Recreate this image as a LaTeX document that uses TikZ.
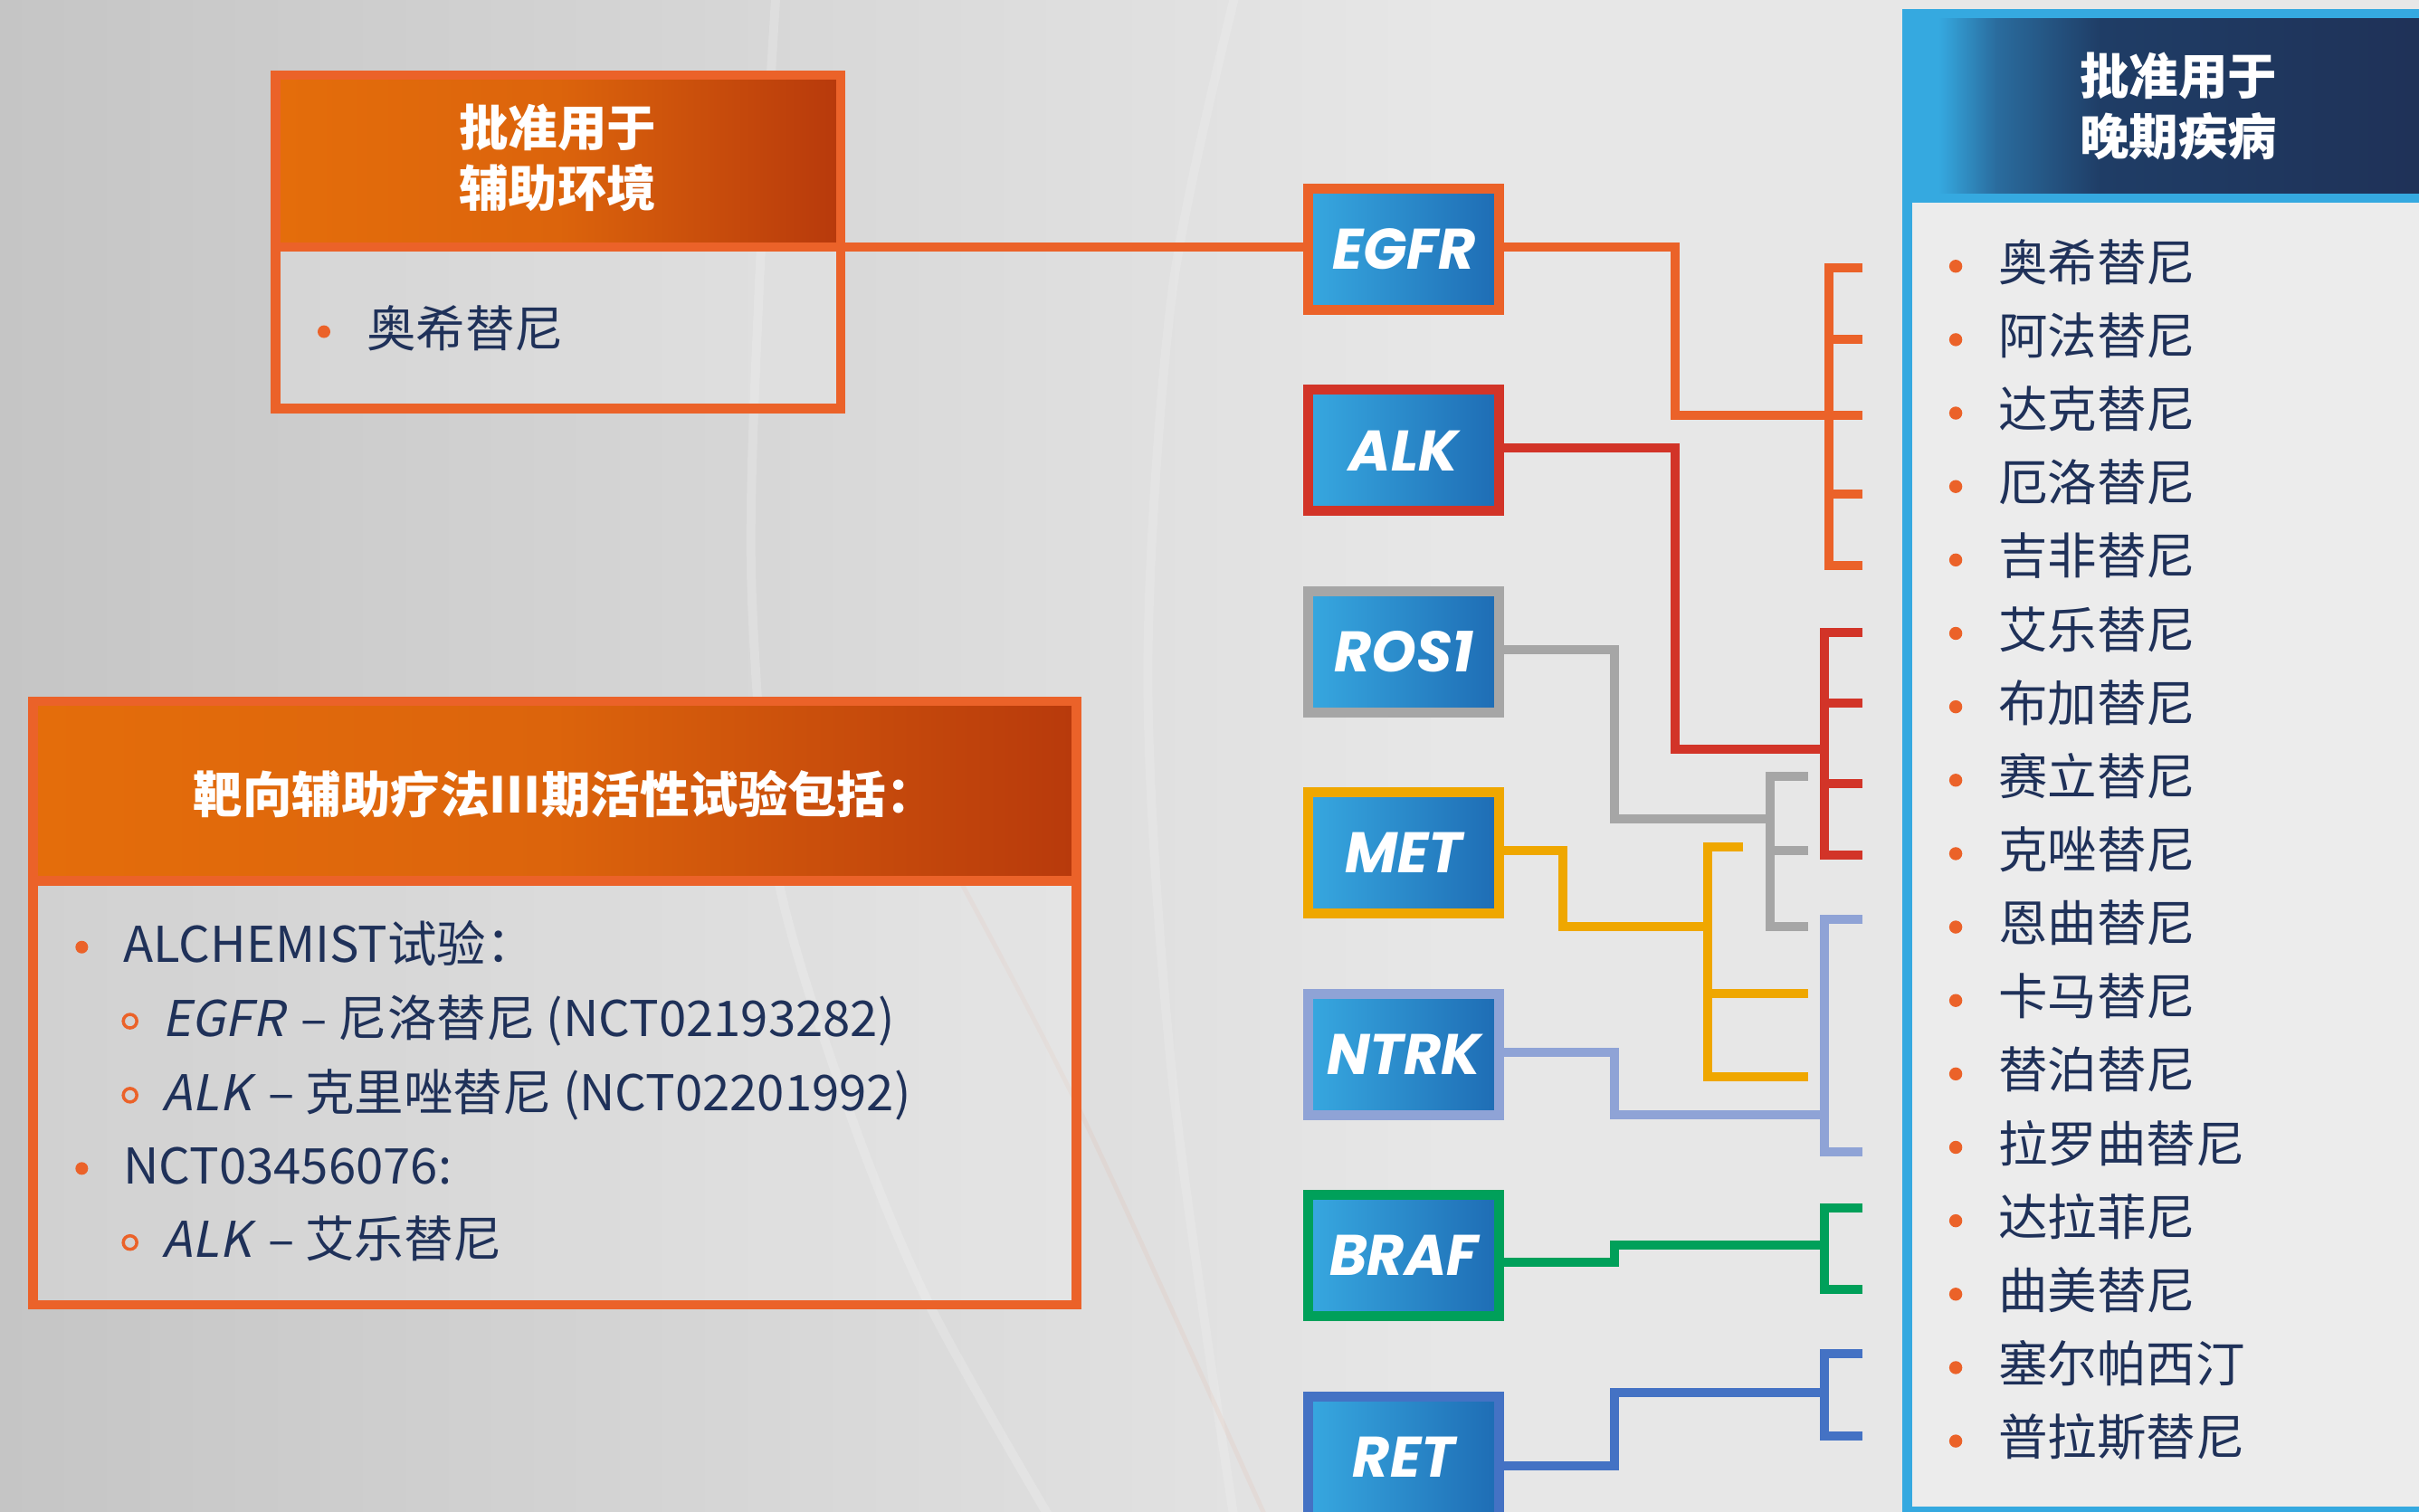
\documentclass[tikz,border=0pt]{standalone}
\usepackage{fontspec}
\setmainfont{Noto Sans CJK SC}
\newfontfamily\cjkit{Noto Sans CJK SC}[FakeSlant=0.2]
\newfontfamily\genefont{Poppins}
\usetikzlibrary{calc}

\definecolor{corange}{HTML}{EB6229}
\definecolor{cred}{HTML}{D23428}
\definecolor{cgray}{HTML}{A6A6A6}
\definecolor{cyellow}{HTML}{EFA700}
\definecolor{clav}{HTML}{8FA3D6}
\definecolor{cgreen}{HTML}{00A05A}
\definecolor{cblue}{HTML}{4472C4}
\definecolor{pblue}{HTML}{35A9E0}
\definecolor{navy}{HTML}{1F3157}
\definecolor{rh2}{HTML}{2A6C9E}
\definecolor{rh3}{HTML}{1F3D66}
\definecolor{tnavy}{HTML}{1F3159}
\definecolor{hor1}{HTML}{E46D0B}
\definecolor{hor2}{HTML}{DC640C}
\definecolor{hor3}{HTML}{B83A0C}
\definecolor{gb1}{HTML}{37A8E0}
\definecolor{gb2}{HTML}{1E6CB4}
\definecolor{bgL}{HTML}{C5C5C5}
\definecolor{bgR}{HTML}{E7E7E7}
\definecolor{rbody}{HTML}{ECECEC}

% TikZ maps the 25bp..75bp part of a shading onto the path
\pgfdeclarehorizontalshading{orhdr}{100bp}{color(0bp)=(hor1); color(25bp)=(hor1); color(50bp)=(hor2); color(75bp)=(hor3); color(100bp)=(hor3)}
\pgfdeclarehorizontalshading{bluehdr}{100bp}{color(0bp)=(pblue); color(27.5bp)=(pblue); color(33bp)=(rh2); color(43bp)=(rh3); color(75bp)=(navy); color(100bp)=(navy)}
\pgfdeclarehorizontalshading{bgshade}{100bp}{color(0bp)=(bgL); color(25bp)=(bgL); color(55bp)=(bgR); color(100bp)=(bgR)}

\tikzset{
  bodytxt/.style={font=\fontsize{15.5pt}{18pt}\selectfont, text=tnavy, anchor=base west, inner sep=0pt},
  hdrtxt/.style={font=\fontsize{15.5pt}{19pt}\selectfont\bfseries, text=white, align=center, inner sep=0pt},
  genebox/.style={draw=#1, line width=0.11cm, left color=gb1, right color=gb2,
    minimum width=2.107cm, minimum height=1.339cm, inner sep=0pt, text=white,
    font=\genefont\fontsize{18pt}{20pt}\selectfont\bfseries\itshape},
  conn/.style={draw=#1, line width=0.1cm},
  frame/.style={draw=#1, line width=0.105cm},
  bgarc/.style={draw=white, line width=0.1cm, opacity=0.18},
  subbul/.style={draw=corange, line width=0.035cm},
}
\newcommand{\gn}[1]{{\cjkit #1}\hspace{0.12em}}

\begin{document}
\begin{tikzpicture}[x=0.017047cm, y=-0.017047cm]
\useasboundingbox (0,0) rectangle (1568,980);
\clip (0,0) rectangle (1568,980);

% background
\shade[shading=bgshade] (0,0) rectangle (1568,980);
\draw[bgarc] plot[smooth] coordinates {(503,-5) (492,188) (487,375) (503,563) (550,719) (602,845) (681,985)};
\draw[bgarc, opacity=0.14] plot[smooth] coordinates {(801,-5) (760,188) (744,438) (760,700) (800,985)};
\draw[draw=corange, line width=0.05cm, opacity=0.06] plot[smooth] coordinates {(618,563) (700,720) (821,985)};

% ---------- box 1: adjuvant ----------
\fill[white, opacity=0.2] (178.6,160) rectangle (544.9,265);
\shade[shading=orhdr] (181.5,51.5) rectangle (541.9,157);
\draw[frame=corange] (178.6,48.7) rectangle (544.9,264.8);
\draw[frame=corange] (178.6,160) -- (544.9,160);
\coordinate (b1r) at (544.9,160);
\node[hdrtxt] (b1h) at (361.4,102.5) {批准用于\\辅助环境};
\fill[corange] (210,215) circle (0.07cm);
\node[bodytxt] (b1i) at (237.3,225) {奥希替尼};

% ---------- box 2: trials ----------
\fill[white, opacity=0.2] (21.3,571) rectangle (697.8,846);
\shade[shading=orhdr] (24.3,457.6) rectangle (694.8,568);
\draw[frame=corange] (21.3,454.6) rectangle (697.8,846);
\draw[frame=corange] (21.3,571) -- (697.8,571);
\node[hdrtxt] (b2h) at (366,514.5) {靶向辅助疗法III期活性试验包括：};
\fill[corange] (53,614) circle (0.07cm);
\fill[corange] (53,757.5) circle (0.07cm);
\draw[subbul] (84.3,662) circle (0.075cm);
\draw[subbul] (84.3,710) circle (0.075cm);
\draw[subbul] (84.3,805.5) circle (0.075cm);
\node[bodytxt] (t1) at (79.6,623.6) {ALCHEMIST试验：};
\node[bodytxt] (t2) at (104.8,671.8) {\gn{EGFR} – 尼洛替尼 (NCT02193282)};
\node[bodytxt] (t3) at (104.8,720) {\gn{ALK} – 克里唑替尼 (NCT02201992)};
\node[bodytxt] (t4) at (79.6,767.4) {NCT03456076:};
\node[bodytxt] (t5) at (104.8,815) {\gn{ALK} – 艾乐替尼};

% ---------- right panel ----------
\fill[pblue] (1233,5.9) rectangle (1580,990);
\shade[shading=bluehdr] (1239.5,12.1) rectangle (1580,125.2);
\fill[rbody] (1239.5,131.4) rectangle (1580,976.7);
\node[hdrtxt] (b3h) at (1412,69) {批准用于\\晚期疾病};
\foreach \t [count=\i from 0] in {奥希替尼,阿法替尼,达克替尼,厄洛替尼,吉非替尼,艾乐替尼,布加替尼,赛立替尼,克唑替尼,恩曲替尼,卡马替尼,替泊替尼,拉罗曲替尼,达拉菲尼,曲美替尼,塞尔帕西汀,普拉斯替尼}{
  \fill[corange] (1267.7,{172.6+47.6*\i}) circle (0.072cm);
  \node[bodytxt] (r\i) at (1295,{182+47.6*\i}) {\t};
}

% ---------- gene boxes ----------
\node[genebox=corange] (egfr) at (910,161.5) {EGFR};
\node[genebox=cred]    (alk)  at (910,292)   {ALK};
\node[genebox=cgray]   (ros)  at (910,422.5) {ROS1};
\node[genebox=cyellow] (met)  at (910,553)   {MET};
\node[genebox=clav]    (ntrk) at (910,683.5) {NTRK};
\node[genebox=cgreen]  (braf) at (910,814)   {BRAF};
\node[genebox=cblue]   (ret)  at (910,944.5) {RET};

% ---------- connectors ----------
\draw[conn=corange] (b1r) -- (egfr.west |- b1r);

\draw[conn=corange] (egfr.east |- 0,160) -- (1086,160) -- (1086,269) -- (1185.6,269);
\draw[conn=corange] (1207.3,173.6) -- (1185.6,173.6) -- (1185.6,366.6) -- (1207.3,366.6);
\foreach \y in {220,269,320} \draw[conn=corange] (1185.6,\y) -- (1207.3,\y);

\draw[conn=cred] (alk.east |- 0,290.5) -- (1086,290.5) -- (1086,485.7) -- (1182.6,485.7);
\draw[conn=cred] (1207.3,410) -- (1182.6,410) -- (1182.6,554.5) -- (1207.3,554.5);
\foreach \y in {456,508} \draw[conn=cred] (1182.6,\y) -- (1207.3,\y);

\draw[conn=cgray] (ros.east |- 0,421) -- (1046.6,421) -- (1046.6,530.6) -- (1147.5,530.6);
\draw[conn=cgray] (1172,503) -- (1147.5,503) -- (1147.5,600.6) -- (1172,600.6);
\draw[conn=cgray] (1147.5,551.5) -- (1172,551.5);

\draw[conn=cyellow] (met.east |- 0,551.5) -- (1013,551.5) -- (1013,600.6) -- (1106.7,600.6);
\draw[conn=cyellow] (1130,549) -- (1106.7,549) -- (1106.7,698) -- (1172,698);
\draw[conn=cyellow] (1106.7,644) -- (1172,644);

\draw[conn=clav] (ntrk.east |- 0,682) -- (1046.6,682) -- (1046.6,722.7) -- (1182.6,722.7);
\draw[conn=clav] (1207.3,595.8) -- (1182.6,595.8) -- (1182.6,746.5) -- (1207.3,746.5);

\draw[conn=cgreen] (braf.east |- 0,818) -- (1046.6,818) -- (1046.6,807) -- (1182.6,807);
\draw[conn=cgreen] (1207.3,783) -- (1182.6,783) -- (1182.6,836) -- (1207.3,836);

\draw[conn=cblue] (ret.east |- 0,950) -- (1046.6,950) -- (1046.6,902.6) -- (1182.6,902.6);
\draw[conn=cblue] (1207.3,877.6) -- (1182.6,877.6) -- (1182.6,931) -- (1207.3,931);
\end{tikzpicture}
\end{document}
